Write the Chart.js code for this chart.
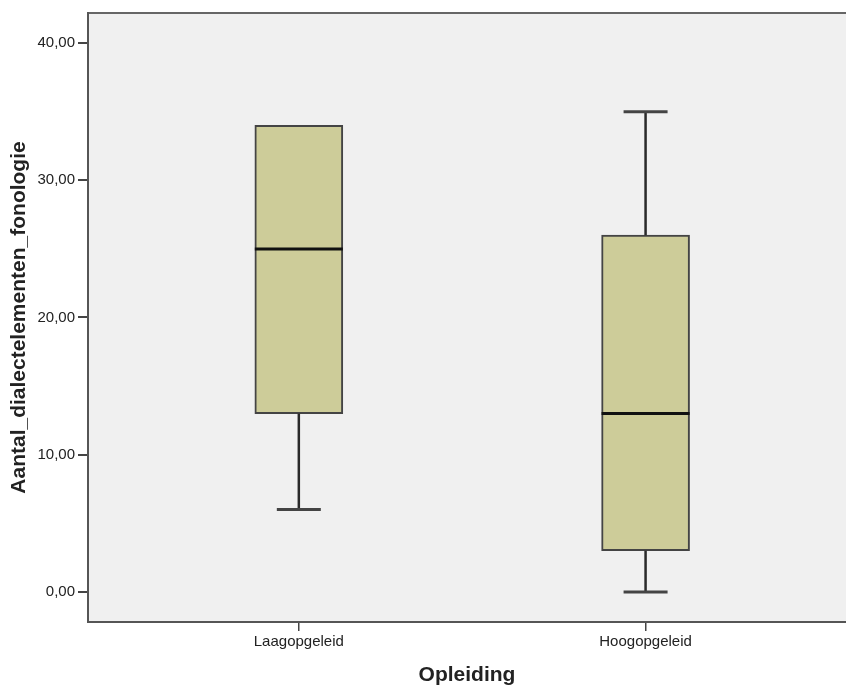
<!DOCTYPE html>
<html>
<head>
<meta charset="utf-8">
<script src="https://cdn.jsdelivr.net/npm/chart.js@4"></script>
<style>
  html, body { margin: 0; padding: 0; background: #ffffff; }
  #wrap { width: 846px; height: 689px; }
</style>
</head>
<body>
<div id="wrap"><canvas id="c" width="846" height="689"></canvas></div>
<script>
// Boxplot: Aantal_dialectelementen_fonologie per opleidingsniveau
const categories = ['Laagopgeleid', 'Hoogopgeleid'];
const whiskerLow  = [6, 0];
const quartile1   = [13, 3];
const medians     = [25, 13];
const quartile3   = [34, 26];
const whiskerHigh = [34, 35];
const yTicks = [0, 10, 20, 30, 40];

const boxFill = '#cdcc99';
const lineDark = '#2a2a2a';

// category positions on a numeric x axis (1, 2, ...)
const positions = categories.map((_, i) => i + 1);

const boxData = positions.map((x, i) => ({ x: x, y: [quartile1[i], quartile3[i]] }));

const plotBackground = {
  id: 'plotBackground',
  beforeDraw(chart) {
    const { ctx, chartArea: a } = chart;
    ctx.save();
    ctx.fillStyle = '#f0f0f0';
    ctx.fillRect(a.left, a.top, a.right - a.left, a.bottom - a.top);
    ctx.strokeStyle = '#666666';
    ctx.lineWidth = 2;
    ctx.beginPath();
    ctx.moveTo(a.left, a.top);
    ctx.lineTo(a.right, a.top);
    ctx.stroke();
    ctx.restore();
  }
};

// whiskers, caps and median lines, placed through the chart scales
const boxExtras = {
  id: 'boxExtras',
  afterDatasetsDraw(chart) {
    const { ctx } = chart;
    const xs = chart.scales.x, ys = chart.scales.y;
    const meta = chart.getDatasetMeta(0);
    ctx.save();
    positions.forEach((p, i) => {
      const cx = xs.getPixelForValue(p);
      const bar = meta.data[i];
      const half = bar.width / 2;
      const capHalf = half / 2;
      const yQ1 = ys.getPixelForValue(quartile1[i]);
      const yQ3 = ys.getPixelForValue(quartile3[i]);
      const yMin = ys.getPixelForValue(whiskerLow[i]);
      const yMax = ys.getPixelForValue(whiskerHigh[i]);
      const yMed = ys.getPixelForValue(medians[i]);

      ctx.strokeStyle = lineDark;
      ctx.lineWidth = 2.5;
      ctx.beginPath();
      if (whiskerHigh[i] > quartile3[i]) { ctx.moveTo(cx, yQ3); ctx.lineTo(cx, yMax); }
      if (whiskerLow[i] < quartile1[i]) { ctx.moveTo(cx, yQ1); ctx.lineTo(cx, yMin); }
      ctx.stroke();

      ctx.strokeStyle = '#444444';
      ctx.lineWidth = 3;
      ctx.beginPath();
      if (whiskerHigh[i] > quartile3[i]) { ctx.moveTo(cx - capHalf, yMax); ctx.lineTo(cx + capHalf, yMax); }
      if (whiskerLow[i] < quartile1[i]) { ctx.moveTo(cx - capHalf, yMin); ctx.lineTo(cx + capHalf, yMin); }
      ctx.stroke();

      ctx.strokeStyle = '#111111';
      ctx.lineWidth = 3;
      ctx.beginPath();
      ctx.moveTo(cx - half, yMed);
      ctx.lineTo(cx + half, yMed);
      ctx.stroke();
    });
    ctx.restore();
  }
};

new Chart(document.getElementById('c'), {
  type: 'bar',
  data: {
    datasets: [{
      data: boxData,
      backgroundColor: boxFill,
      borderColor: '#444444',
      borderWidth: 2,
      borderSkipped: false,
      barThickness: 88
    }]
  },
  options: {
    responsive: false,
    animation: false,
    devicePixelRatio: 1,
    layout: { padding: { top: 13, right: 0, bottom: 0, left: 0 } },
    plugins: { legend: { display: false }, tooltip: { enabled: false } },
    scales: {
      x: {
        type: 'linear',
        offset: false,
        min: 0.392,
        max: 2.578,
        afterBuildTicks(scale) { scale.ticks = positions.map(v => ({ value: v })); },
        afterFit(scale) { scale.height = 67; },
        ticks: {
          callback: (v) => categories[Math.round(v) - 1] ?? '',
          color: '#222222',
          font: { family: 'Liberation Sans, Arial, sans-serif', size: 15 },
          padding: 2,
          maxRotation: 0,
          autoSkip: false
        },
        grid: { offset: false, drawOnChartArea: false, drawTicks: true, tickLength: 9, color: '#444444', lineWidth: 1.5 },
        border: { display: true, color: '#555555', width: 2 },
        title: {
          display: true,
          text: 'Opleiding',
          color: '#222222',
          font: { family: 'Liberation Sans, Arial, sans-serif', size: 21, weight: 'bold' },
          padding: { top: 0, bottom: 1 }
        }
      },
      y: {
        type: 'linear',
        min: -2.19,
        max: 42.19,
        afterBuildTicks(scale) { scale.ticks = yTicks.map(v => ({ value: v })); },
        afterFit(scale) { scale.width = 88; },
        ticks: {
          callback: (v) => v.toFixed(2).replace('.', ','),
          color: '#222222',
          font: { family: 'Liberation Sans, Arial, sans-serif', size: 15 },
          padding: 3
        },
        grid: { drawOnChartArea: false, drawTicks: true, tickLength: 10, color: '#444444', lineWidth: 2 },
        border: { display: true, color: '#555555', width: 2 },
        title: {
          display: true,
          text: 'Aantal_dialectelementen_fonologie',
          color: '#222222',
          font: { family: 'Liberation Sans, Arial, sans-serif', size: 21, weight: 'bold' },
          padding: { top: 7, bottom: 0 }
        }
      }
    }
  },
  plugins: [plotBackground, boxExtras]
});
</script>
</body>
</html>
